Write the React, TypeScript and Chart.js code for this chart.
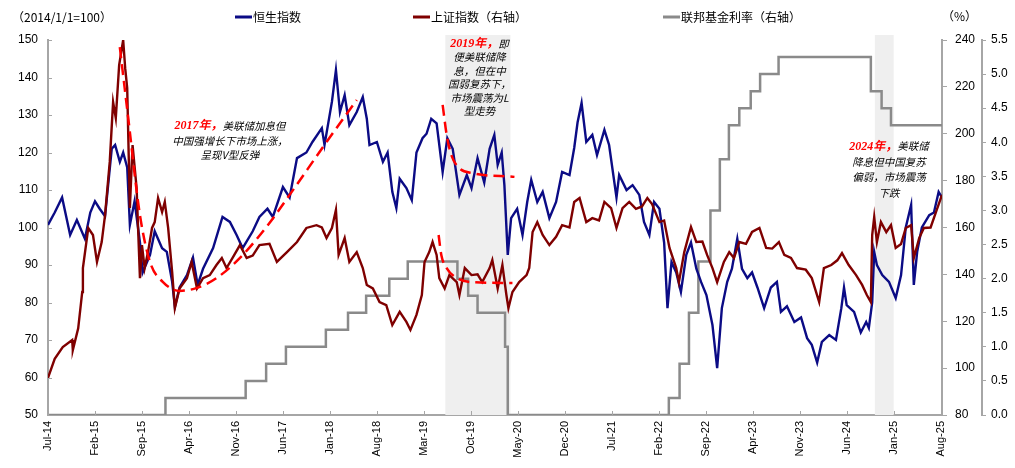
import React, { useEffect, useRef } from "react";
import { Chart, registerables } from "chart.js";

Chart.register(...registerables);

// x values are months since Jul-2014
const tickMonths = [0, 7, 14, 21, 28, 35, 42, 49, 56, 63, 70, 77, 84, 91, 98, 105, 112, 119, 126, 133];
const tickLabels = ["Jul-14", "Feb-15", "Sep-15", "Apr-16", "Nov-16", "Jun-17", "Jan-18", "Aug-18", "Mar-19", "Oct-19", "May-20", "Dec-20", "Jul-21", "Feb-22", "Sep-22", "Apr-23", "Nov-23", "Jun-24", "Jan-25", "Aug-25"];

const hsiMonths = [0, 1.0, 2.1, 3.3, 4.3, 5.5, 6.3, 7.0, 7.7, 8.5, 9.5, 10.0, 10.7, 11.2, 11.8, 12.2, 12.9, 13.7, 14.1, 15.2, 15.9, 17.0, 17.7, 18.5, 18.9, 19.6, 20.7, 21.6, 22.3, 23.1, 24.6, 26.0, 27.1, 28.1, 29.0, 30.5, 31.5, 32.7, 33.5, 35.0, 36.0, 37.1, 38.5, 39.4, 40.8, 41.2, 42.3, 42.9, 43.5, 44.2, 44.9, 46.0, 46.9, 47.5, 47.9, 49.0, 49.9, 50.6, 51.3, 51.9, 52.4, 53.4, 54.2, 54.9, 55.8, 56.4, 57.1, 57.9, 58.8, 59.5, 60.3, 61.3, 62.4, 63.1, 64.0, 65.0, 65.8, 66.5, 67.0, 67.6, 68.0, 68.5, 69.0, 69.9, 70.7, 71.4, 72.0, 72.9, 73.7, 74.7, 75.7, 76.6, 77.7, 78.4, 78.9, 79.5, 80.2, 81.1, 81.8, 82.9, 83.6, 84.7, 85.1, 86.2, 87.1, 88.1, 88.8, 89.6, 90.3, 91.1, 91.8, 92.3, 92.9, 93.6, 94.3, 95.1, 95.8, 96.6, 97.3, 98.1, 99.0, 99.7, 100.4, 101.2, 101.9, 102.7, 103.4, 104.2, 104.9, 105.7, 106.7, 107.7, 108.6, 109.2, 110.1, 111.2, 112.2, 113.1, 113.8, 114.6, 115.3, 116.4, 117.4, 118.2, 118.6, 119.0, 120.1, 121.1, 121.9, 122.3, 122.8, 123.1, 123.5, 124.3, 125.3, 126.3, 127.1, 127.8, 128.6, 129.0, 129.5, 130.2, 131.3, 132.0, 132.7, 133.2];
const hsiValues = [100.7, 104, 108, 98, 102, 97, 104, 107, 105, 103, 121, 122, 117.5, 120, 116, 100.7, 107, 96, 88, 92.7, 99, 94.5, 93.5, 85.5, 78.8, 84, 87.3, 92, 84.7, 89, 94.5, 102.8, 101.5, 98, 94.5, 99, 102.8, 105, 102.8, 110.8, 108, 118.5, 120, 122.8, 126.5, 122, 133.5, 142, 130.8, 135.3, 127.3, 130.8, 134.8, 129, 122, 122.8, 117.5, 120, 109.5, 105.2, 113, 110.5, 107.3, 120, 123.8, 125, 129, 127.8, 114.8, 123.8, 121, 108.7, 114, 110.5, 118.5, 112, 121, 124.7, 116.7, 120, 111.3, 92.7, 102.5, 105, 98, 106.8, 112.7, 106.8, 109.5, 102.5, 106.8, 114.8, 114, 121.2, 128, 133.2, 122.8, 124.7, 119.3, 126, 122, 108, 114, 110, 111.3, 108.7, 101.5, 98, 106.8, 105, 96, 78.5, 90.8, 88, 82.8, 92.7, 96, 89, 85.5, 82, 74, 62.5, 78.5, 85.5, 89, 97, 89, 86.5, 88, 84, 78.5, 84, 85.5, 77.5, 79, 74.8, 76, 70.5, 68.7, 64, 69.5, 71.3, 70, 78.5, 84, 79.3, 77.5, 72, 74.8, 73.2, 80, 93.5, 90, 87.3, 85.5, 81.2, 87.3, 100, 106, 84.7, 93.5, 100, 103.3, 104, 109.5, 108];

const shMonths = [0, 1.0, 2.2, 3.6, 3.7, 4.5, 5.1, 5.2, 6.0, 6.7, 7.3, 8.0, 8.5, 9.2, 9.7, 10.1, 10.6, 11.2, 11.5, 11.8, 12.2, 12.6, 13.2, 13.7, 14.0, 14.4, 14.9, 15.5, 15.9, 16.4, 17.0, 17.4, 17.9, 18.5, 18.9, 19.6, 20.7, 21.4, 22.2, 23.1, 24.1, 25.1, 25.9, 26.6, 27.5, 28.6, 29.6, 30.5, 31.5, 33.0, 34.1, 35.6, 37.1, 38.5, 40.0, 40.8, 41.5, 42.3, 42.9, 43.3, 44.2, 44.9, 46.0, 46.9, 47.5, 48.4, 49.4, 50.4, 51.3, 52.4, 53.4, 54.0, 54.9, 55.7, 56.1, 56.8, 57.3, 57.9, 58.3, 59.1, 59.8, 60.9, 61.3, 62.1, 63.1, 64.0, 64.7, 65.8, 66.2, 67.0, 67.7, 68.3, 68.6, 69.2, 70.2, 71.3, 71.7, 72.2, 72.9, 73.7, 74.7, 75.7, 76.6, 77.7, 78.4, 79.2, 80.2, 81.1, 82.1, 82.9, 83.9, 84.7, 85.6, 86.6, 87.6, 88.5, 89.3, 90.0, 91.1, 91.8, 92.6, 93.6, 94.0, 94.8, 95.8, 96.6, 97.5, 98.2, 99.0, 99.7, 100.7, 101.5, 102.2, 103.0, 104.0, 104.9, 106.0, 107.0, 107.9, 108.9, 109.7, 110.7, 111.6, 112.9, 113.8, 114.9, 115.6, 116.7, 117.6, 118.3, 119.3, 120.4, 121.3, 122.0, 122.6, 122.8, 123.1, 123.5, 124.1, 124.9, 125.6, 126.3, 127.1, 127.8, 128.6, 129.0, 129.8, 130.5, 131.5, 132.3, 133.2];
const shValues = [95.8, 104, 109, 112, 107.7, 117, 132.5, 142.7, 159.8, 156.8, 145.3, 153.8, 165.3, 188, 213.5, 206.7, 229.3, 240, 228, 219.5, 168.3, 195.2, 176.9, 138.4, 152.5, 142.7, 149.5, 159.8, 162.3, 172.6, 166.6, 170.9, 159.8, 141, 125.6, 134, 138.4, 145.3, 134, 138.4, 139.7, 144, 147, 142.7, 147, 152.5, 147, 148, 152.5, 153, 145.3, 149.5, 153.8, 159.8, 161, 160, 155.5, 159.8, 167.5, 148.3, 155.5, 145.3, 149.5, 142.7, 135.5, 134, 128.2, 126.9, 118.4, 124, 119.7, 116.3, 122.7, 131.2, 145.3, 149.5, 153.8, 148.3, 138.4, 134, 139.7, 136.7, 131.2, 142.7, 139.7, 140, 136.7, 142.7, 146.1, 134, 144, 131.2, 125.6, 132.5, 136.7, 139.7, 142.7, 158.1, 162.3, 156.8, 152.5, 156, 161, 160, 170.9, 172.6, 162.3, 164, 163, 170.9, 168.3, 159.8, 168.3, 170.9, 168, 169, 172.6, 170, 162.3, 163, 151.3, 142.7, 136.7, 149.5, 160.2, 153.8, 154, 148.3, 142.7, 136.7, 145.3, 149.5, 147, 153.8, 153, 158.1, 159.8, 151.3, 151, 153.8, 148.3, 147, 142.7, 142, 138.4, 128.2, 142.7, 144, 146, 149.1, 144, 139.7, 135.5, 131.2, 128.2, 156.8, 164.5, 153.8, 162.3, 158, 161, 151.3, 153, 159.8, 161, 147, 155.5, 159.8, 160, 166.6, 173.9];

// Fed funds target (lower bound), value holds from each change month
const fedMonths = [0, 17.5, 29.45, 32.5, 35.45, 41.4, 44.7, 47.4, 50.85, 53.6, 61.0, 62.6, 64.0, 68.1, 68.5, 92.5, 94.1, 95.5, 96.9, 98.7, 100.1, 101.45, 103.0, 104.7, 106.1, 108.85, 122.6, 124.2, 125.6, 133.2];
const fedValues = [0, 0.25, 0.5, 0.75, 1.0, 1.25, 1.5, 1.75, 2.0, 2.25, 2.0, 1.75, 1.5, 1.0, 0, 0.25, 0.75, 1.5, 2.25, 3.0, 3.75, 4.25, 4.5, 4.75, 5.0, 5.25, 4.75, 4.5, 4.25, 4.25];

// red dashed trend guides
const vTrendMonths = [10.7, 11.9, 13.7, 15.2, 17.1, 19.6, 22.2, 25.1, 28.6, 33.0, 36.0, 41.5, 46.0];
const vTrendValues = [148.1, 130, 103.3, 90.8, 85.5, 83.1, 83.9, 86.5, 91.9, 101.2, 108.7, 122.8, 134];
const lTrendHsiMonths = [58.8, 59.4, 60.1, 61.3, 63.2, 69.5];
const lTrendHsiValues = [132.7, 124.7, 119.3, 115.8, 114.5, 113.5];
const lTrendShMonths = [58.2, 58.6, 59.4, 60.9, 63.2, 69.2];
const lTrendShValues = [156.8, 148.3, 142.7, 138.4, 136.7, 136.3];

const shadedPeriods = [[59.2, 68.9], [123.2, 126.0]];

const notes = [
  { m: 27.1, v: 127.0, lh: 14.5, lines: [["2017年，", "美联储加息但"], ["", "中国强增长下市场上涨，"], ["", "呈现V型反弹"]] },
  { m: 64.3, v: 149.0, lh: 13.5, lines: [["2019年，", "即"], ["", "便美联储降"], ["", "息，但在中"], ["", "国弱复苏下，"], ["", "市场震荡为L"], ["", "型走势"]] },
  { m: 125.3, v: 121.6, lh: 15.5, lines: [["2024年，", "美联储"], ["", "降息但中国复苏"], ["", "偏弱，市场震荡"], ["", "下跌"]] },
];

const legendItems = [
  { label: "恒生指数", color: "#0b0b85", x: 235 },
  { label: "上证指数（右轴）", color: "#7f0000", x: 413 },
  { label: "联邦基金利率（右轴）", color: "#8a8a8a", x: 663 },
];

const toXY = (xs: number[], ys: number[]) => xs.map((x, i) => ({ x, y: ys[i] }));

const FONT = "'Liberation Sans', Arial, sans-serif";
const CJK = "'Noto Sans CJK SC', sans-serif";

const decorPlugin = {
  id: "decor",
  beforeDatasetsDraw(chart: any) {
    const { ctx, chartArea, scales } = chart;
    ctx.save();
    ctx.fillStyle = "#efefef";
    shadedPeriods.forEach(([a, b]) => {
      const x1 = scales.x.getPixelForValue(a);
      const x2 = scales.x.getPixelForValue(b);
      ctx.fillRect(x1, chartArea.top - 5, x2 - x1, chartArea.bottom - chartArea.top + 5);
    });
    ctx.restore();
  },
  afterDraw(chart: any) {
    const { ctx, chartArea, scales } = chart;
    ctx.save();
    // inward ticks for left and bottom axes
    ctx.strokeStyle = "#a6a6a6";
    ctx.lineWidth = 1;
    scales.x.ticks.forEach((t: any) => {
      const px = Math.round(scales.x.getPixelForValue(t.value)) + 0.5;
      ctx.beginPath();
      ctx.moveTo(px, chartArea.bottom - 4);
      ctx.lineTo(px, chartArea.bottom);
      ctx.stroke();
    });
    scales.y.ticks.forEach((t: any) => {
      const py = Math.round(scales.y.getPixelForValue(t.value)) + 0.5;
      ctx.beginPath();
      ctx.moveTo(chartArea.left, py);
      ctx.lineTo(chartArea.left + 4, py);
      ctx.stroke();
    });

    // annotations
    notes.forEach((n) => {
      const cx = scales.x.getPixelForValue(n.m);
      const cy0 = scales.y.getPixelForValue(n.v);
      n.lines.forEach(([red, black], i) => {
        const cy = cy0 + i * n.lh;
        ctx.textBaseline = "middle";
        const redFont = "bold italic 12px 'Liberation Serif', " + CJK;
        const blackFont = "italic 10.5px " + CJK;
        ctx.font = redFont;
        const wr = red ? ctx.measureText(red).width : 0;
        ctx.font = blackFont;
        const wb = ctx.measureText(black).width;
        let x = cx - (wr + wb) / 2;
        ctx.textAlign = "left";
        if (red) {
          ctx.font = redFont;
          ctx.fillStyle = "#ff0000";
          ctx.fillText(red, x, cy);
          x += wr;
        }
        ctx.font = blackFont;
        ctx.fillStyle = "#000000";
        ctx.fillText(black, x, cy);
      });
    });

    // legend / headers
    ctx.textBaseline = "middle";
    ctx.textAlign = "left";
    ctx.fillStyle = "#000";
    ctx.font = "12px " + CJK;
    ctx.fillText("（2014/1/1=100）", 12, 17);
    ctx.fillText("（%）", 942, 16);
    legendItems.forEach((it) => {
      ctx.strokeStyle = it.color;
      ctx.lineWidth = 3;
      ctx.beginPath();
      ctx.moveTo(it.x, 17);
      ctx.lineTo(it.x + 17, 17);
      ctx.stroke();
      ctx.fillStyle = "#000";
      ctx.font = "12px " + CJK;
      ctx.fillText(it.label, it.x + 18, 17);
    });
    ctx.restore();
  },
};

export default function App() {
  const ref = useRef<HTMLCanvasElement | null>(null);
  useEffect(() => {
    if (!ref.current) return;
    const chart = new Chart(ref.current, {
      type: "line",
      data: {
        datasets: [
          { label: "vtrend", data: toXY(vTrendMonths, vTrendValues), yAxisID: "y", borderColor: "#ff0000", borderWidth: 2.5, borderDash: [11, 6], pointRadius: 0, cubicInterpolationMode: "monotone", order: 0 } as any,
          { label: "ltrend1", data: toXY(lTrendHsiMonths, lTrendHsiValues), yAxisID: "y", borderColor: "#ff0000", borderWidth: 2.5, borderDash: [11, 6], pointRadius: 0, cubicInterpolationMode: "monotone", order: 0 },
          { label: "ltrend2", data: toXY(lTrendShMonths, lTrendShValues), yAxisID: "y1", borderColor: "#ff0000", borderWidth: 2.5, borderDash: [11, 6], pointRadius: 0, cubicInterpolationMode: "monotone", order: 0 },
          { label: "上证指数（右轴）", data: toXY(shMonths, shValues), yAxisID: "y1", borderColor: "#7f0000", borderWidth: 2.4, pointRadius: 0, tension: 0, order: 1 },
          { label: "恒生指数", data: toXY(hsiMonths, hsiValues), yAxisID: "y", borderColor: "#0b0b85", borderWidth: 2.4, pointRadius: 0, tension: 0, order: 2 },
          { label: "联邦基金利率（右轴）", data: toXY(fedMonths, fedValues), yAxisID: "y2", borderColor: "#8a8a8a", borderWidth: 2.5, pointRadius: 0, stepped: true, order: 3 },
        ],
      },
      options: {
        animation: false,
        responsive: false,
        events: [],
        layout: { padding: { top: 40, left: 0, right: 0, bottom: 0 } },
        plugins: { legend: { display: false }, tooltip: { enabled: false } },
        scales: {
          x: {
            type: "linear",
            min: 0,
            max: 133.2,
            afterBuildTicks: (s: any) => { s.ticks = tickMonths.map((v) => ({ value: v })); },
            afterFit: (s: any) => { s.height = 53; },
            ticks: {
              autoSkip: false,
              minRotation: 90,
              maxRotation: 90,
              padding: 6,
              color: "#000",
              font: { family: FONT, size: 11 },
              callback: (_v: any, i: number) => tickLabels[i],
            },
            grid: { display: true, drawOnChartArea: false, drawTicks: false },
            border: { color: "#a6a6a6", width: 2 },
          },
          y: {
            position: "left",
            min: 50,
            max: 150,
            afterBuildTicks: (s: any) => { const t = []; for (let v = 50; v <= 150; v += 10) t.push({ value: v }); s.ticks = t; },
            afterFit: (s: any) => { s.width = 48; },
            ticks: { padding: 10, color: "#000", font: { family: FONT, size: 12 } },
            grid: { drawOnChartArea: false, drawTicks: false },
            border: { color: "#a6a6a6", width: 2 },
          },
          y1: {
            position: "right",
            min: 80,
            max: 240,
            afterBuildTicks: (s: any) => { const t = []; for (let v = 80; v <= 240; v += 20) t.push({ value: v }); s.ticks = t; },
            afterFit: (s: any) => { s.width = 40; },
            ticks: { padding: 8, color: "#000", font: { family: FONT, size: 12 } },
            grid: { drawOnChartArea: false, drawTicks: true, tickLength: 5, color: "#a6a6a6" },
            border: { color: "#a6a6a6", width: 2 },
          },
          y2: {
            position: "right",
            min: 0,
            max: 5.5,
            afterBuildTicks: (s: any) => { const t = []; for (let i = 0; i <= 11; i++) t.push({ value: i * 0.5 }); s.ticks = t; },
            afterFit: (s: any) => { s.width = 33; },
            ticks: { padding: 5, color: "#000", font: { family: FONT, size: 12 }, callback: (v: any) => Number(v).toFixed(1) },
            grid: { drawOnChartArea: false, drawTicks: true, tickLength: 4, color: "#a6a6a6" },
            border: { color: "#a6a6a6", width: 2 },
          },
        },
      },
      plugins: [decorPlugin],
    });
    return () => chart.destroy();
  }, []);
  return (
    <div style={{ position: "absolute", left: 0, top: 0, width: 1015, height: 468, background: "#fff" }}>
      <canvas ref={ref} width={1015} height={468} style={{ display: "block" }} />
    </div>
  );
}
